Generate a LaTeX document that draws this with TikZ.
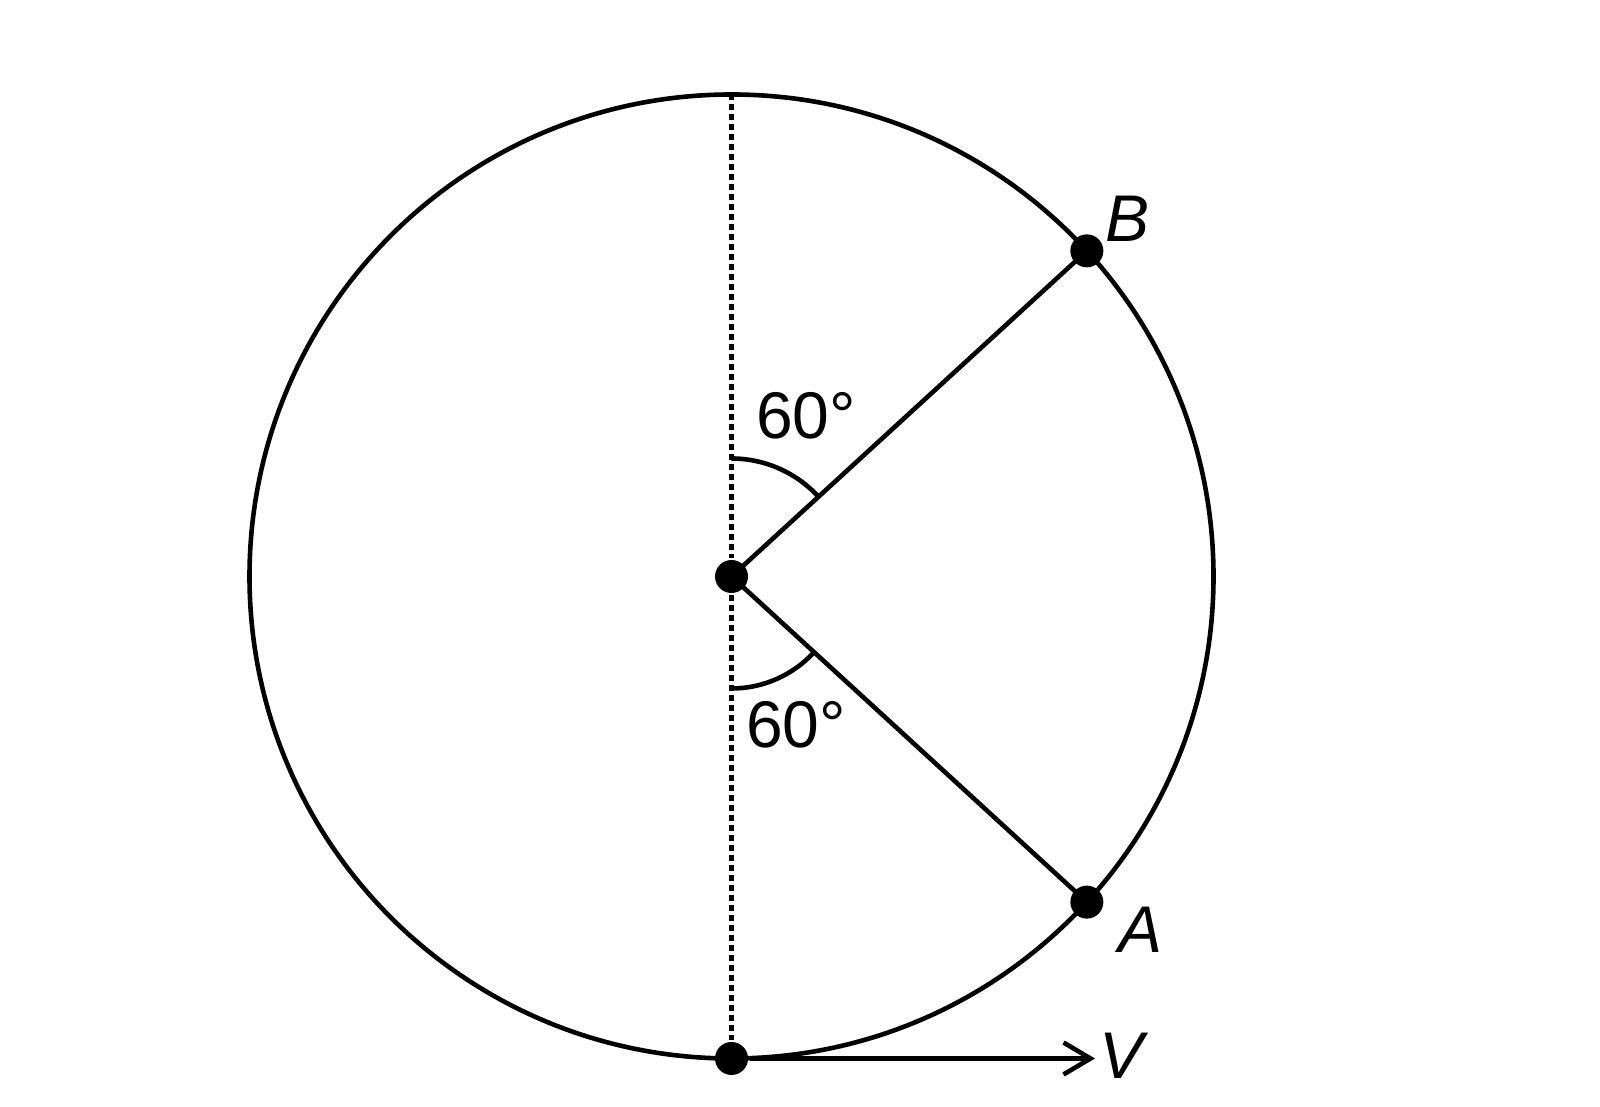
\documentclass[tikz,border=0pt]{standalone}
\usepackage{fontspec}
\setmainfont{Liberation Sans}
\usetikzlibrary{arrows.meta,calc}
\begin{document}
\begin{tikzpicture}[x=0.5pt,y=0.5pt,
  line width=2.3pt,
  dot/.style={circle,fill=black,inner sep=0pt,minimum size=16.5pt},
  lbl/.style={font=\fontsize{33}{40}\selectfont,inner sep=0pt},
  guide/.style={line width=2.8pt,dash pattern=on 3pt off 2pt},
  velo/.style={-{Straight Barb[length=13.5pt,width=16pt]}}]
\useasboundingbox (0,0) rectangle (1600,1107);
\coordinate (C) at (731.5,530.5);
\coordinate (T) at (731.5,1012.5);
\node[dot] (O) at (C) {};
\node[dot] (B) at ($(C)+(42.5:482)$) {};
\node[dot] (A) at ($(C)+(-42.5:482)$) {};
\node[dot] (P) at (731.5,48.5) {};
\coordinate (V) at (1095,48.5);
\draw (C) circle[radius=482];
\draw[guide] (T) -- (O);
\draw[guide] (O) -- (P);
\draw (O.center) -- (B.center);
\draw (O.center) -- (A.center);
\draw ($(C)+(90:118)$) arc[start angle=90,end angle=42.5,radius=118];
\draw ($(C)+(-90:112)$) arc[start angle=-90,end angle=-42.5,radius=112];
\draw[velo] (P) -- (V);
\node[lbl] (a1) at (806,691) {60°};
\node[lbl] (a2) at (796,382) {60°};
\node[lbl] (lB) at (1127,888) {\itshape B};
\node[lbl] (lA) at (1140,177) {\itshape A};
\node[lbl] (lV) at (1121,51) {\itshape V};
\end{tikzpicture}
\end{document}
